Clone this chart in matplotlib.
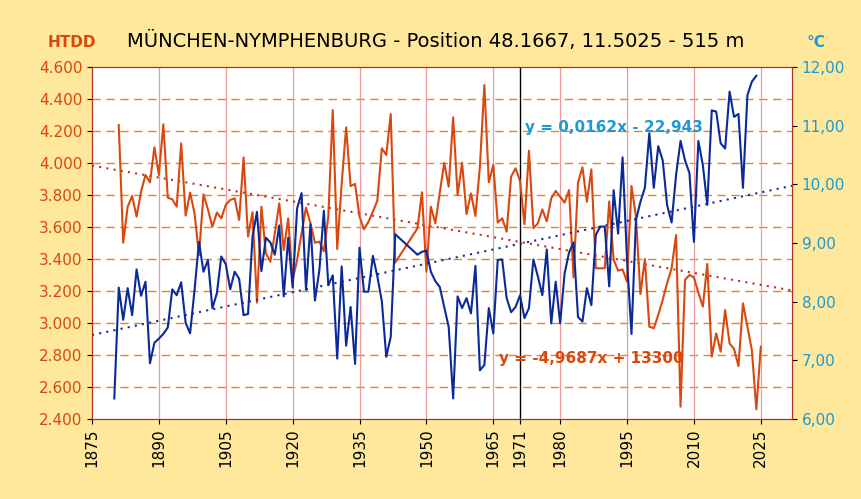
import matplotlib
matplotlib.use("Agg")
import matplotlib.pyplot as plt
import numpy as np

htdd_years = list(range(1881, 1944)) + list(range(1948, 2026))
htdd = [4237,3502,3727,3794,3665,3821,3925,3879,4098,3925,4242,3783,3773,3727,4123,3671,3815,3686,3425,3804,
        3710,3602,3690,3654,3738,3769,3779,3644,4035,3540,3692,3127,3727,3435,3383,3560,3748,3456,3654,3269,
        3394,3560,3721,3623,3502,3508,3448,3665,4331,3462,3873,4223,3856,3869,3665,3585,3633,3696,3765,4092,
        4050,4306,3377,
        3592,3817,3321,3727,3623,3815,4000,3852,4285,3800,4002,3681,3810,3669,3977,4487,3879,3988,3627,3654,
        3571,3915,3967,3888,3617,4077,3592,3623,3710,3635,3779,3825,3790,3752,3831,3285,3877,3973,3758,3960,
        3342,3342,3342,3760,3394,3327,3335,3258,3856,3665,3181,3400,2977,2967,3050,3144,3250,3342,3550,2477,
        3269,3300,3285,3190,3102,3369,2790,2935,2821,3081,2873,2838,2731,3123,2977,2830,2461,2852]

temp_years = list(range(1880, 1944)) + list(range(1948, 2025))
temp = [6.35,8.24,7.69,8.23,7.77,8.55,8.10,8.34,6.95,7.30,7.37,7.45,7.56,8.21,8.11,8.33,7.64,7.46,8.20,9.02,
        8.51,8.71,7.89,8.14,8.77,8.64,8.21,8.51,8.39,7.77,7.79,9.11,9.53,8.52,9.09,9.01,8.80,9.30,8.09,9.09,
        8.24,9.59,9.85,8.20,9.32,8.02,8.54,9.55,8.28,8.45,7.03,8.60,7.25,7.91,6.94,8.92,8.17,8.17,8.78,8.43,
        8.01,7.06,7.40,9.15,
        8.80,8.85,8.87,8.51,8.35,8.25,7.91,7.57,6.35,8.09,7.89,8.06,7.80,8.61,6.83,6.92,7.89,7.46,8.71,8.72,
        8.06,7.82,7.91,8.11,7.72,7.89,8.72,8.43,8.11,8.89,7.63,8.34,7.63,8.48,8.84,9.01,7.74,7.66,8.23,7.94,
        9.14,9.28,9.28,8.26,9.90,9.16,10.46,8.71,7.45,9.39,9.70,9.94,10.87,9.94,10.65,10.41,9.64,9.35,10.16,10.74,
        10.41,10.19,9.02,10.74,10.33,9.65,11.26,11.24,10.70,10.61,11.58,11.15,11.20,9.94,11.52,11.75,11.85]

xticks = [1875, 1890, 1905, 1920, 1935, 1950, 1965, 1971, 1980, 1995, 2010, 2025]
ORANGE = "#D9480F"
BLUE = "#0A2A9A"
LBLUE = "#1A9AD6"

fig = plt.figure(figsize=(8.62, 4.99), dpi=100)
fig.patch.set_facecolor("#FFE79C")
ax = fig.add_axes([92/862, 80/499, 700/862, 352/499])
ax.set_facecolor("white")
xmin, xmax = 1875, 2032
ax.set_xlim(xmin, xmax)
ax.set_ylim(2400, 4600)
ax.set_yticks(np.arange(2400, 4601, 200))
ax.set_yticklabels([f"{v:,}".replace(",", ".") for v in range(2400, 4601, 200)], color=ORANGE, fontsize=11)
for y in range(2600, 4600, 200):
    ax.axhline(y, color="#E8861C", lw=1, ls=(0, (6, 4)), zorder=0)
for x in xticks:
    if x not in (1875, 1971):
        ax.axvline(x, color="#EE9A9A", lw=0.9, zorder=0)
ax.axvline(1971, color="black", lw=1, zorder=1)
ax.set_xticks(xticks)
ax.set_xticklabels([str(x) for x in xticks], rotation=90, fontsize=11)
for s in ax.spines.values():
    s.set_color("#B03020")

ax2 = ax.twinx()
ax2.set_ylim(6, 12)
ax2.set_yticks(range(6, 13))
ax2.set_yticklabels([f"{v},00" for v in range(6, 13)], color=LBLUE, fontsize=11)
for s in ax2.spines.values():
    s.set_color("#B03020")

ax.plot(htdd_years, htdd, color=ORANGE, lw=1.5, zorder=3)
ax2.plot(temp_years, temp, color=BLUE, lw=1.5, zorder=3)
xs = np.array([xmin, xmax])
ax.plot(xs, -4.9687 * xs + 13300, color="#C03020", ls=(0, (1, 2.5)), lw=1.5)
ax2.plot(xs, 0.0162 * xs - 22.943, color="#1A2A8A", ls=(0, (1, 2.5)), lw=1.5)

ax2.text(1992, 10.9, "y = 0,0162x - 22,943", color=LBLUE, fontsize=11, fontweight="bold", ha="center")
ax.text(1987, 2750, "y = -4,9687x + 13300", color=ORANGE, fontsize=11, fontweight="bold", ha="center")

fig.text(0.505, 0.905, "MÜNCHEN-NYMPHENBURG - Position 48.1667, 11.5025 - 515 m", ha="center", fontsize=14)
fig.text(0.083, 0.905, "HTDD", color=ORANGE, fontsize=11, fontweight="bold", ha="center")
fig.text(0.947, 0.905, "°C", color=LBLUE, fontsize=11, fontweight="bold", ha="center")

fig.savefig("out.png", dpi=100, facecolor=fig.get_facecolor())
